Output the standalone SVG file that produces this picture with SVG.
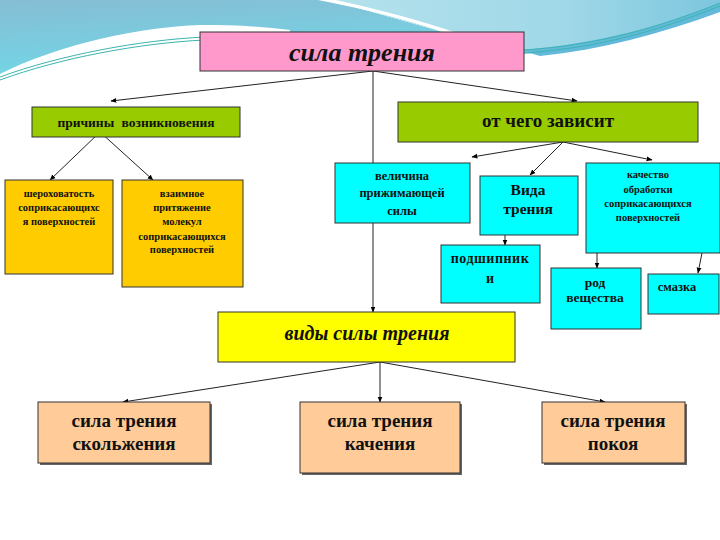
<svg xmlns="http://www.w3.org/2000/svg" width="720" height="540" viewBox="0 0 720 540">
<defs>
<linearGradient id="bgL" x1="0" y1="0" x2="0.3" y2="1">
<stop offset="0" stop-color="#86BDD4"/><stop offset="1" stop-color="#72D6E6"/>
</linearGradient>
<linearGradient id="bgR" x1="0" y1="0" x2="1" y2="0">
<stop offset="0" stop-color="#B4E2EC"/><stop offset="0.6" stop-color="#A0D8E8"/><stop offset="1" stop-color="#7CC6DE"/>
</linearGradient>
<marker id="ah" viewBox="0 0 10 10" refX="9" refY="5" markerWidth="6" markerHeight="6" orient="auto" markerUnits="userSpaceOnUse">
<path d="M0,1 L10,5 L0,9 Z" fill="#000"/>
</marker>
<style>
.box{stroke:#333;stroke-width:1}
.pink{fill:#FF99CC}.green{fill:#99CC00}.gold{fill:#FFCC00}.cyan{fill:#00FFFF}.yel{fill:#FFFF00}.peach{fill:#FFCC99}
.sh{fill:#666}
text{font-family:"Liberation Serif","Times New Roman",serif;font-weight:bold;fill:#111;text-anchor:middle}
.it{font-style:italic}
.ln{stroke:#222;stroke-width:1;fill:none;marker-end:url(#ah)}
.wl{stroke:#3BB5B0;stroke-width:1;fill:none}
</style>
</defs>
<rect width="720" height="540" fill="#FFFFFF"/>
<g id="background">
<path d="M0,0 L330,0 L450,34 L290,34 L290,30 C260,26 230,25 200,25 C140,27 60,44 0,74 Z" fill="url(#bgL)"/>
<path d="M330,0 L720,0 L720,5 C680,24 620,44 560,52 L524,54 L524,34 L450,34 Z" fill="url(#bgR)"/>
<path d="M520,50 C600,44 660,26 720,3 L720,12 C660,34 600,50 540,56 Z" fill="#62B9DA"/>
<path d="M318,0 L336,0 C380,10 420,20 460,34 L448,34 C410,20 360,8 318,0 Z" fill="#FFFFFF"/>
<path class="wl" d="M0,77 C60,55 140,40 205,37"/>
<path class="wl" d="M0,80 C60,58 140,43 205,40"/>
<path class="wl" d="M524,50 C600,45 660,27 720,3"/>
<path class="wl" d="M524,53 C600,48 660,30 720,6"/>
</g>
<g id="connectors">
<line class="ln" x1="373" y1="71" x2="111" y2="101"/>
<line class="ln" x1="373" y1="71" x2="577" y2="101"/>
<line class="ln" x1="373" y1="71" x2="373" y2="312"/>
<line class="ln" x1="100" y1="132" x2="50" y2="180"/>
<line class="ln" x1="100" y1="132" x2="153" y2="180"/>
<line class="ln" x1="563" y1="142" x2="472" y2="157"/>
<line class="ln" x1="563" y1="142" x2="530" y2="175"/>
<line class="ln" x1="563" y1="142" x2="652" y2="160"/>
<line class="ln" x1="505" y1="235" x2="505" y2="245"/>
<line class="ln" x1="597" y1="253" x2="597" y2="268"/>
<line class="ln" x1="702" y1="253" x2="698" y2="273"/>
<line class="ln" x1="380" y1="362" x2="123" y2="402"/>
<line class="ln" x1="380" y1="362" x2="380" y2="402"/>
<line class="ln" x1="380" y1="362" x2="605" y2="402"/>
</g>
<g id="n-sila-treniya">
<rect class="box pink" x="200" y="32" width="324" height="39"/>
<text class="it" x="362" y="61" font-size="26">сила трения</text>
</g>
<g id="n-prichiny">
<rect class="box green" x="32" y="107" width="208" height="30"/>
<text x="136" y="127" font-size="13.5" word-spacing="4">причины возникновения</text>
</g>
<g id="n-ot-chego">
<rect class="box green" x="398" y="102" width="300" height="40"/>
<text x="548" y="127" font-size="19">от чего зависит</text>
</g>
<g id="n-sherohovatost">
<rect class="box gold" x="5" y="180" width="108" height="94"/>
<text x="59" y="197" font-size="10.5">шероховатость</text>
<text x="59" y="211" font-size="10.5">соприкасающихс</text>
<text x="59" y="225" font-size="10.5">я поверхностей</text>
</g>
<g id="n-vzaimnoe">
<rect class="box gold" x="122" y="180" width="121" height="107"/>
<text x="182" y="197" font-size="10.5">взаимное</text>
<text x="182" y="211" font-size="10.5">притяжение</text>
<text x="182" y="225" font-size="10.5">молекул</text>
<text x="182" y="240" font-size="10.5">соприкасающихся</text>
<text x="182" y="253" font-size="10.5">поверхностей</text>
</g>
<g id="n-velichina">
<rect class="box cyan" x="335" y="163" width="135" height="60"/>
<text x="402" y="180" font-size="12.5">величина</text>
<text x="402" y="197" font-size="12.5">прижимающей</text>
<text x="402" y="215" font-size="12.5">силы</text>
</g>
<g id="n-vida">
<rect class="box cyan" x="480" y="176" width="98" height="59"/>
<text x="528" y="195" font-size="15.5">Вида</text>
<text x="528" y="214" font-size="15.5">трения</text>
</g>
<g id="n-kachestvo">
<rect class="box cyan" x="586" y="163" width="134" height="90"/>
<text x="648" y="178" font-size="10.5">качество</text>
<text x="648" y="193" font-size="10.5">обработки</text>
<text x="648" y="207" font-size="10.5">соприкасающихся</text>
<text x="648" y="221" font-size="10.5">поверхностей</text>
</g>
<g id="n-podshipniki">
<rect class="box cyan" x="441" y="245" width="99" height="58"/>
<text x="490" y="263" font-size="14" letter-spacing="0.5">подшипник</text>
<text x="490" y="283" font-size="14">и</text>
</g>
<g id="n-rod">
<rect class="box cyan" x="551" y="268" width="90" height="61"/>
<text x="595" y="287" font-size="13.5">род</text>
<text x="595" y="302" font-size="13.5">вещества</text>
</g>
<g id="n-smazka">
<rect class="box cyan" x="648" y="274" width="71" height="40"/>
<text x="677" y="291" font-size="12.5">смазка</text>
</g>
<g id="n-vidy">
<rect class="box yel" x="218" y="312" width="297" height="50"/>
<text class="it" x="367" y="340" font-size="20">виды силы трения</text>
</g>
<g id="n-skolzheniya">
<rect class="sh" x="40" y="404" width="172" height="61"/>
<rect class="box peach" x="38" y="402" width="172" height="61"/>
<text x="124" y="427" font-size="19">сила трения</text>
<text x="124" y="450" font-size="19">скольжения</text>
</g>
<g id="n-kacheniya">
<rect class="sh" x="302" y="404" width="160" height="71"/>
<rect class="box peach" x="300" y="402" width="160" height="71"/>
<text x="380" y="427" font-size="19">сила трения</text>
<text x="380" y="450" font-size="19">качения</text>
</g>
<g id="n-pokoya">
<rect class="sh" x="544" y="404" width="143" height="61"/>
<rect class="box peach" x="542" y="402" width="143" height="61"/>
<text x="613" y="427" font-size="19">сила трения</text>
<text x="613" y="450" font-size="19">покоя</text>
</g>
</svg>
